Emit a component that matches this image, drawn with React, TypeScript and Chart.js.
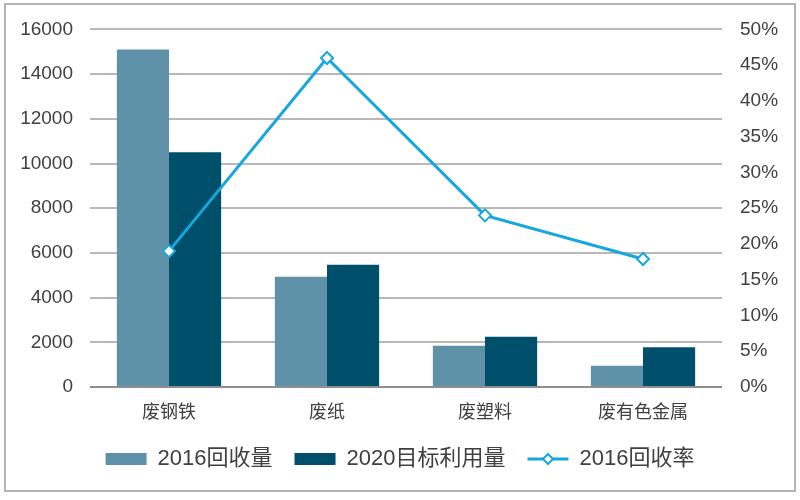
import React, { useEffect, useRef } from "react";
import { Chart, registerables } from "chart.js";

Chart.register(...registerables);

const categories = ["废钢铁", "废纸", "废塑料", "废有色金属"];
const recovered2016 = [15100, 4930, 1850, 950];
const target2020 = [10500, 5470, 2250, 1780];
const recoveryRate = [19, 46, 24, 17.9];
const leftTicks = [0, 2000, 4000, 6000, 8000, 10000, 12000, 14000, 16000];
const rightTicks = [0, 5, 10, 15, 20, 25, 30, 35, 40, 45, 50];
const seriesNames = ["2016回收量", "2020目标利用量", "2016回收率"];

const LIGHT = "#5f92a8";
const DARK = "#00506b";
const LINE = "#17a7dc";
const FONT = '"Liberation Sans", "Noto Sans CJK SC", sans-serif';
const TEXT = "#404040";

export default function App() {
  const ref = useRef<HTMLCanvasElement | null>(null);

  useEffect(() => {
    const canvas = ref.current;
    if (!canvas) return;

    const framePlugin = {
      id: "frame",
      beforeDraw(chart: any) {
        const ctx = chart.ctx;
        ctx.save();
        ctx.fillStyle = "#ffffff";
        ctx.fillRect(0, 0, chart.width, chart.height);
        ctx.strokeStyle = "#b4b4b4";
        ctx.lineWidth = 2;
        ctx.strokeRect(5, 4, 790, 487);
        ctx.restore();
      },
      afterDraw(chart: any) {
        const legend = chart.legend;
        if (!legend || !legend.legendHitBoxes) return;
        const hb = legend.legendHitBoxes[2];
        if (!hb) return;
        const bw = legend.options.labels.pointStyleWidth || 41;
        const cx = hb.left + bw / 2;
        const cy = hb.top + hb.height / 2;
        const ctx = chart.ctx;
        ctx.save();
        ctx.beginPath();
        const r = 5;
        ctx.moveTo(cx, cy - r);
        ctx.lineTo(cx + r, cy);
        ctx.lineTo(cx, cy + r);
        ctx.lineTo(cx - r, cy);
        ctx.closePath();
        ctx.fillStyle = "#ffffff";
        ctx.fill();
        ctx.strokeStyle = LINE;
        ctx.lineWidth = 2;
        ctx.stroke();
        ctx.restore();
      },
    };

    const chart = new Chart(canvas, {
      type: "bar",
      data: {
        labels: categories,
        datasets: [
          {
            type: "bar",
            label: seriesNames[0],
            data: recovered2016,
            backgroundColor: LIGHT,
            borderWidth: 0,
            yAxisID: "y",
            order: 1,
            categoryPercentage: 0.66,
            barPercentage: 1,
          },
          {
            type: "bar",
            label: seriesNames[1],
            data: target2020,
            backgroundColor: DARK,
            borderWidth: 0,
            yAxisID: "y",
            order: 1,
            categoryPercentage: 0.66,
            barPercentage: 1,
          },
          {
            type: "line",
            label: seriesNames[2],
            data: recoveryRate,
            borderColor: LINE,
            backgroundColor: "#ffffff",
            borderWidth: 3,
            tension: 0,
            pointStyle: "rectRot",
            pointRadius: 6,
            pointBorderWidth: 2,
            pointBackgroundColor: "#ffffff",
            pointBorderColor: LINE,
            yAxisID: "y2",
            order: 0,
          } as any,
        ],
      },
      options: {
        responsive: false,
        animation: false,
        devicePixelRatio: 1,
        layout: { padding: { top: 27, left: 0, right: 0, bottom: 20 } },
        plugins: {
          tooltip: { enabled: false },
          legend: {
            display: true,
            position: "bottom",
            labels: {
              color: TEXT,
              font: { family: FONT, size: 22 },
              usePointStyle: true,
              pointStyleWidth: 41,
              boxHeight: 12,
              padding: 22,
              generateLabels(chart: any) {
                const items = Chart.defaults.plugins.legend.labels
                  .generateLabels(chart)
                  .sort((a: any, b: any) => a.datasetIndex - b.datasetIndex);
                items.forEach((it: any) => {
                  if (it.datasetIndex === 2) {
                    it.pointStyle = "line";
                    it.strokeStyle = LINE;
                    it.lineWidth = 3;
                  } else {
                    it.pointStyle = "rect";
                    it.lineWidth = 0;
                  }
                });
                return items;
              },
            },
          },
        },
        scales: {
          x: {
            grid: { display: false, drawTicks: false },
            border: { display: false },
            ticks: {
              color: TEXT,
              font: { family: FONT, size: 18 },
              padding: 15,
            },
            afterFit(scale: any) {
              scale.height = 39;
            },
          },
          y: {
            position: "left",
            min: 0,
            max: 16000,
            afterBuildTicks(scale: any) {
              scale.ticks = leftTicks.map((v) => ({ value: v }));
            },
            grid: {
              drawTicks: false,
              lineWidth: 2,
              color: (ctx: any) => (ctx.tick && ctx.tick.value === 0 ? "#8f8f8f" : "#b8b8b8"),
            },
            border: { display: false },
            ticks: {
              color: TEXT,
              font: { family: FONT, size: 19 },
              padding: 17,
              callback: (v: any) => String(v),
            },
            afterFit(scale: any) {
              scale.width = 90;
            },
          },
          y2: {
            position: "right",
            min: 0,
            max: 50,
            afterBuildTicks(scale: any) {
              scale.ticks = rightTicks.map((v) => ({ value: v }));
            },
            grid: { display: false, drawTicks: false },
            border: { display: false },
            ticks: {
              color: TEXT,
              font: { family: FONT, size: 19 },
              padding: 18,
              callback: (v: any) => v + "%",
            },
            afterFit(scale: any) {
              scale.width = 78;
            },
          },
        },
      },
      plugins: [framePlugin],
    } as any);

    return () => chart.destroy();
  }, []);

  return (
    <div style={{ position: "fixed", left: 0, top: 0, width: 800, height: 500, background: "#fff" }}>
      <canvas ref={ref} width={800} height={500} style={{ display: "block" }} />
    </div>
  );
}
